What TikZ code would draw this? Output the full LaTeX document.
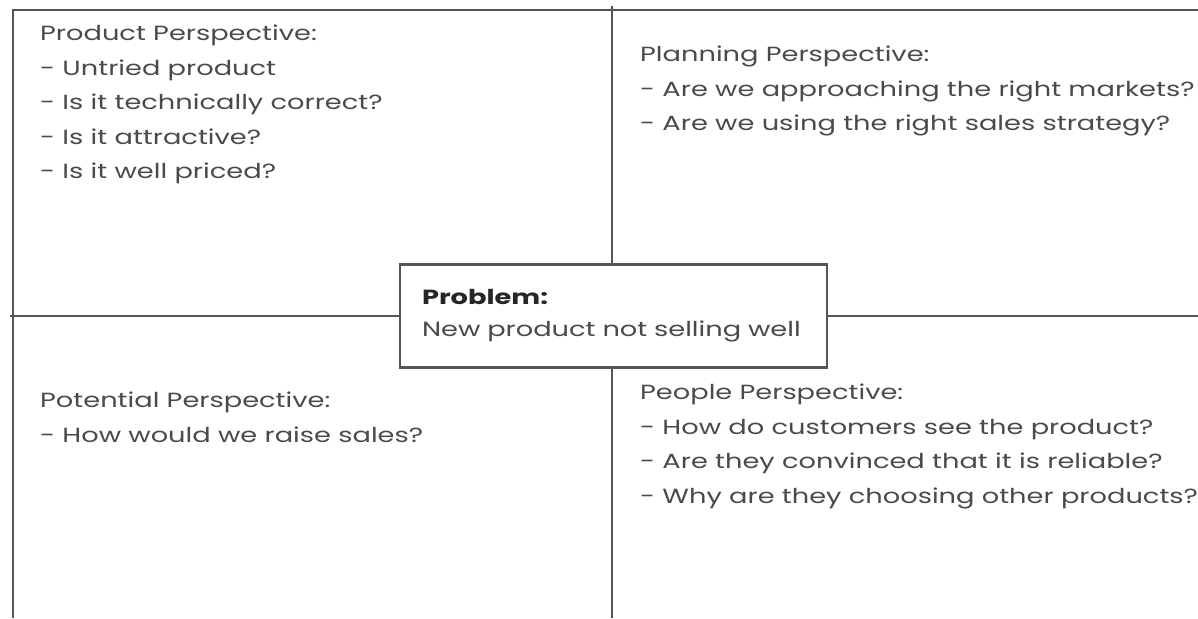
\documentclass[tikz,border=0pt]{standalone}
\usepackage{fontspec}
\setmainfont{Poppins}[FakeStretch=1.33]
\usepackage{tikz}
\usetikzlibrary{positioning}

\definecolor{rulegray}{HTML}{555555}
\definecolor{textgray}{HTML}{4A4A4A}

\begin{document}
\begin{tikzpicture}[x=1pt,y=-1pt,
  grid/.style={draw=rulegray,line width=2.5pt},
  persp/.style={anchor=north west,inner sep=0pt,align=left,text=textgray,
    font=\fontsize{20.5}{34.5}\selectfont},
  probbox/.style={draw=rulegray,line width=2.5pt,fill=white,align=left,
    minimum width=427pt,minimum height=103pt,text width=383pt,inner xsep=22pt,
    font=\fontsize{20.5}{32}\selectfont}]
\useasboundingbox (0,0) rectangle (1198,618);
% frame and cross
\draw[grid] (1198,10) -- (13,10) -- (13,618);
\draw[grid] (612,6) -- (612,618);
\draw[grid] (10,316) -- (1198,316);
% four perspectives
\node[persp] (product) at (40,25) {Product Perspective:\\- Untried product\\- Is it technically correct?\\- Is it attractive?\\- Is it well priced?};
\node[persp] (planning) at (640,46) {Planning Perspective:\\- Are we approaching the right markets?\\- Are we using the right sales strategy?};
\node[persp] (potential) at (40,392) {Potential Perspective:\\- How would we raise sales?};
\node[persp] (people) at (640,384) {People Perspective:\\- How do customers see the product?\\- Are they convinced that it is reliable?\\- Why are they choosing other products?};
% problem in the middle
\node[probbox] (problem) at (613.5,316) {\textbf{\color{black!85}Problem:}\\{\color{textgray}New product not selling well}};
\end{tikzpicture}
\end{document}
